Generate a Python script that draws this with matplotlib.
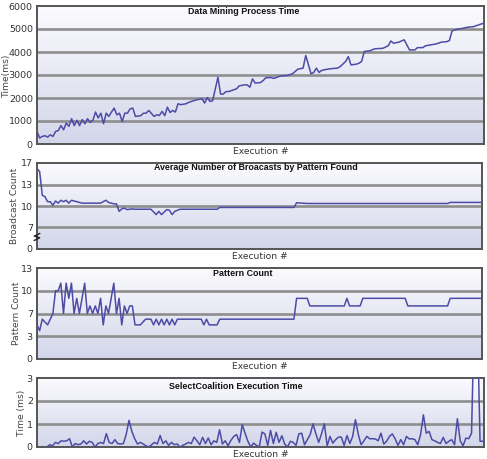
import numpy as np
import matplotlib
matplotlib.use("Agg")
import matplotlib.pyplot as plt
from matplotlib.colors import LinearSegmentedColormap

# ---------------- data ----------------
exec_dm = [0, 1, 2, 3, 4, 5, 6, 7, 8, 9, 10, 11, 12, 13, 14, 15, 16, 17, 18, 19,
           20, 21, 22, 23, 24, 25, 26, 27, 28, 29, 30, 31, 32, 33, 34, 35, 36, 37, 39, 40,
           41, 42, 44, 45, 46, 47, 48, 49, 50, 51, 52, 53, 54, 56, 57, 58, 60, 62, 63, 64,
           65, 66, 68, 69, 70, 71, 72, 74, 75, 76, 78, 79, 80, 81, 82, 84, 85, 86, 88, 89,
           91, 92, 94, 96, 97, 98, 100, 101, 103, 104, 105, 106, 107, 109, 111, 113, 114, 116, 117, 118,
           120, 121, 122, 123, 125, 127, 130, 132, 133, 134, 136, 138, 140, 142, 143, 145, 146, 148, 150, 152,
           154, 155, 156, 158, 160, 162, 164, 166, 167, 168]
dm_time = [550, 260, 330, 360, 300, 400, 330, 550, 580, 800, 620, 910, 770, 1100, 800, 1030, 800, 1060, 880, 1100,
           940, 1030, 1390, 1130, 1340, 880, 1340, 1200, 1390, 1560, 1270, 1340, 980, 1340, 1340, 1530, 1560, 1200, 1230, 1340,
           1340, 1460, 1200, 1270, 1240, 1420, 1230, 1600, 1370, 1460, 1390, 1750, 1710, 1750, 1810, 1850, 1920, 1970, 1780, 2020,
           1850, 1880, 2900, 2170, 2170, 2280, 2280, 2360, 2400, 2530, 2570, 2570, 2470, 2830, 2650, 2670, 2760, 2880, 2890, 2850,
           2940, 2960, 2980, 3050, 3150, 3250, 3300, 3850, 3050, 3110, 3300, 3110, 3200, 3250, 3280, 3300, 3370, 3590, 3800, 3440,
           3470, 3510, 3590, 4020, 4050, 4140, 4160, 4270, 4480, 4380, 4430, 4530, 4090, 4090, 4190, 4190, 4270, 4310, 4350, 4430,
           4450, 4500, 4920, 4990, 5030, 5080, 5100, 5180, 5220, 5250]

exec_bc = [0, 1, 2, 3, 4, 5, 6, 7, 8, 9, 10, 11, 12, 13, 15, 16, 17, 24, 26, 27,
           29, 30, 31, 32, 33, 34, 36, 37, 43, 45, 46, 47, 49, 50, 51, 52, 54, 68, 69, 97,
           98, 102, 155, 156, 168]
bc_count = [16.0, 15.4, 11.5, 11.3, 10.6, 10.6, 10.1, 10.7, 10.4, 10.8, 10.6, 10.8, 10.4, 10.8, 10.6, 10.5, 10.4, 10.4, 10.8, 10.5,
            10.3, 10.3, 9.25, 9.6, 9.7, 9.5, 9.6, 9.55, 9.55, 8.8, 9.25, 8.8, 9.5, 9.4, 8.8, 9.25, 9.55, 9.55, 9.8, 9.8,
            10.45, 10.35, 10.35, 10.5, 10.5]

exec_pc = [0, 1, 2, 4, 5, 6, 7, 8, 9, 10, 11, 12, 13, 14, 15, 16, 18, 19, 20, 21,
           22, 23, 24, 25, 26, 27, 29, 30, 31, 32, 33, 34, 35, 36, 37, 39, 41, 43, 44, 45,
           46, 47, 48, 49, 50, 51, 52, 53, 62, 63, 64, 65, 68, 69, 97, 98, 102, 103, 116, 117,
           118, 122, 123, 139, 140, 155, 156, 168]
pattern_count = [5, 4, 6, 5, 6, 7, 10, 10, 11, 7, 11, 9, 11, 7, 9, 7, 11, 7, 8, 7,
                 8, 7, 9, 5, 8, 7, 11, 7, 9, 5, 8, 7, 8, 8, 5, 5, 6, 6, 5, 6,
                 5, 6, 5, 6, 5, 6, 5, 6, 6, 5, 6, 5, 5, 6, 6, 9, 9, 8, 8, 9,
                 8, 8, 9, 9, 8, 8, 9, 9]

sc_time = [0, 0.1, 0.05, 0.2, 0.15, 0.27, 0.25, 0.27, 0.36, 0, 0.15, 0.1, 0.13, 0.27, 0.13, 0.25, 0.2, 0, 0.15, 0.2,
           0.15, 0.58, 0.2, 0.15, 0.32, 0.15, 0.13, 0.15, 0.54, 1.16, 0.68, 0.36, 0.13, 0.2, 0.13, 0.05, 0, 0.1, 0.2, 0.13,
           0.5, 0.15, 0.27, 0.07, 0.2, 0.1, 0.13, 0, 0.07, 0.13, 0.2, 0.15, 0.43, 0.27, 0.1, 0.42, 0.15, 0.39, 0.1, 0.27,
           0.2, 0.75, 0.13, 0.27, 0.05, 0.29, 0.46, 0.54, 0.2, 0.97, 0.6, 0.25, 0, 0.17, 0.07, 0, 0.65, 0.57, 0.07, 0.72,
           0.15, 0.64, 0.2, 0.49, 0.13, 0, 0.25, 0.2, 0.07, 0.57, 0.6, 0.1, 0.32, 0.54, 1.01, 0.58, 0.2, 0.57, 1.01, 0.05,
           0.46, 0.17, 0.32, 0.43, 0.43, 0.07, 0.5, 0.15, 0.46, 1.19, 0.54, 0.1, 0.27, 0.46, 0.36, 0.36, 0.35, 0.27, 0.6, 0.13,
           0.25, 0.46, 0.57, 0.36, 0.07, 0.32, 0.1, 0.46, 0.35, 0.36, 0.32, 0.1, 0.54, 1.4, 0.6, 0.68, 0.32, 0.27, 0.2, 0.15,
           0.42, 0.15, 0.25, 0.32, 0.1, 1.23, 0.27, 0.05, 0.39, 0.36, 0.6, 6.0, 6.0, 0.25, 0.25]
exec_sc = list(range(1, len(sc_time) + 1))

dm_ticks = [0, 1000, 2000, 3000, 4000, 5000, 6000]
bc_ticks = [0, 7, 10, 13, 17]
pc_ticks = [0, 3, 7, 10, 13]
sc_ticks = [0, 1, 2, 3]

titles = ["Data Mining Process Time", "Average Number of Broacasts by Pattern Found",
          "Pattern Count", "SelectCoalition Execution Time"]
ylabels = ["Time(ms)", "Broadcast Count", "Pattern Count", "Time (ms)"]

# ---------------- figure ----------------
W, H = 487, 459
fig = plt.figure(figsize=(W / 100, H / 100), dpi=100)
fig.patch.set_facecolor("white")

LINE = "#4c4ca6"
GRID = "#8e8e8e"
cmap = LinearSegmentedColormap.from_list("bg", ["#d3d6ea", "#fbfbfe"])
grad = np.linspace(0, 1, 256).reshape(-1, 1)
title_font = ["Liberation Sans", "DejaVu Sans"]


def make_axes(l, t, r, b):
    return fig.add_axes([l / W, 1 - b / H, (r - l) / W, (b - t) / H])


def piecewise_scale(ax, levels):
    pos = np.arange(len(levels), dtype=float)
    lv = np.asarray(levels, dtype=float)

    def fwd(v):
        return np.interp(np.asarray(v, dtype=float), lv, pos)

    def inv(p):
        return np.interp(np.asarray(p, dtype=float), pos, lv)

    ax.set_yscale("function", functions=(fwd, inv))


def style(ax, x, y, ticks, xlim, title, title_x, title_y, ylabel, ylabel_px, axw):
    ax.imshow(grad, extent=[0, 1, 0, 1], transform=ax.transAxes, origin="lower",
              aspect="auto", cmap=cmap, zorder=0, interpolation="bilinear")
    for t in ticks[1:-1]:
        ax.axhline(t, color=GRID, lw=1.9, zorder=1)
    ax.plot(x, y, color=LINE, lw=1.1, zorder=3)
    ax.set_xlim(*xlim)
    ax.set_ylim(ticks[0], ticks[-1])
    ax.set_yticks(ticks)
    ax.set_yticklabels([str(t) for t in ticks])
    ax.set_xticks([])
    ax.tick_params(axis="y", length=0, pad=3, labelsize=6.8, labelcolor="#333333")
    for s in ax.spines.values():
        s.set_color("#555555")
        s.set_linewidth(1.4)
    ax.text(title_x, title_y, title, transform=ax.transAxes, ha="center", va="center",
            fontsize=6.4, fontweight="bold", family=title_font, color="#111111", zorder=5)
    ax.set_xlabel("Execution #", fontsize=6.6, color="#333333", labelpad=2)
    ax.set_ylabel(ylabel, fontsize=6.6, color="#444444")
    ax.yaxis.set_label_coords((ylabel_px - 37) / axw, 0.5)


ax1 = make_axes(37, 6, 484, 144)
style(ax1, exec_dm, dm_time, dm_ticks, (0, 168), titles[0], (244 - 37) / 447, 0.957,
      ylabels[0], 11, 447)

ax2 = make_axes(37, 163, 482, 249)
piecewise_scale(ax2, bc_ticks)
style(ax2, exec_bc, bc_count, bc_ticks, (0, 168), titles[1], (256 - 37) / 445, 0.942,
      ylabels[1], 19, 445)
# axis break mark
ax2.plot([-0.006, 0.006, -0.006, 0.006], [0.10, 0.13, 0.15, 0.18], transform=ax2.transAxes,
         color="#222222", lw=1.0, clip_on=False, zorder=6)

ax3 = make_axes(37, 268, 482, 359)
piecewise_scale(ax3, pc_ticks)
style(ax3, exec_pc, pattern_count, pc_ticks, (0, 168), titles[2], (243 - 37) / 445, 0.945,
      ylabels[2], 21, 445)

ax4 = make_axes(37, 378, 484, 447)
style(ax4, exec_sc, sc_time, sc_ticks, (-2.5, 155.4), titles[3], (236 - 37) / 447, 0.884,
      ylabels[3], 26, 447)

fig.savefig("out.png", dpi=100)
